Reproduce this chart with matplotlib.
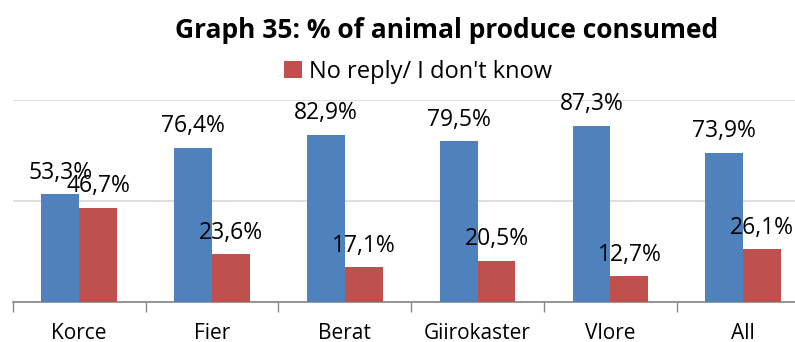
import numpy as np
import matplotlib.pyplot as plt

plt.rcParams['font.family'] = ['Open Sans', 'DejaVu Sans']

regions = ['Korce', 'Fier', 'Berat', 'Giirokaster', 'Vlore', 'All']
consumed = [53.3, 76.4, 82.9, 79.5, 87.3, 73.9]
no_reply = [46.7, 23.6, 17.1, 20.5, 12.7, 26.1]

blue = '#4F81BD'
red = '#C0504D'

fig = plt.figure(figsize=(7.95, 3.42), dpi=100)
ax = fig.add_axes([12.7 / 795, 40 / 342, 797 / 795, 202 / 342])

x = np.arange(len(regions))
w = 0.285
b1 = ax.bar(x - w / 2, consumed, w, color=blue, zorder=3)
b2 = ax.bar(x + w / 2, no_reply, w, color=red, zorder=3, label="No reply/ I don't know")

def pct(v):
    return f'{v:.1f}%'.replace('.', ',')

for bars, vals in ((b1, consumed), (b2, no_reply)):
    for r, v in zip(bars, vals):
        ax.annotate(pct(v), (r.get_x() + r.get_width() / 2, v), xytext=(0, 7),
                    textcoords='offset points', ha='center', va='bottom',
                    fontsize=16.5, zorder=4)

ax.set_xlim(-0.5, len(regions) - 0.5)
ax.set_ylim(0, 100)
ax.set_yticks([0, 50, 100])
ax.yaxis.grid(True, color='#D9D9D9', lw=1.2, zorder=0)
ax.tick_params(axis='y', left=False, labelleft=False)

# ticks sit on category boundaries, names in the middle
ax.set_xticks(np.arange(len(regions) + 1) - 0.5)
ax.set_xticklabels([])
ax.set_xticks(x, minor=True)
ax.set_xticklabels(regions, minor=True, fontsize=15)
ax.tick_params(axis='x', which='major', length=7, color='#868686', width=1)
ax.tick_params(axis='x', which='minor', length=0, pad=15)

for s in ('top', 'right', 'left'):
    ax.spines[s].set_visible(False)
ax.spines['bottom'].set_color('#868686')
ax.spines['bottom'].set_linewidth(1.2)

fig.text(447 / 795, 1 - 31 / 342, 'Graph 35: % of animal produce consumed',
         ha='center', va='center', fontsize=19, fontweight='bold')
fig.legend(handles=[b2], loc='center', bbox_to_anchor=(418 / 795, 1 - 72 / 342),
           frameon=False, fontsize=17, handlelength=0.75, handleheight=0.75,
           handletextpad=0.3, borderpad=0)

fig.savefig('out.png', dpi=100)
